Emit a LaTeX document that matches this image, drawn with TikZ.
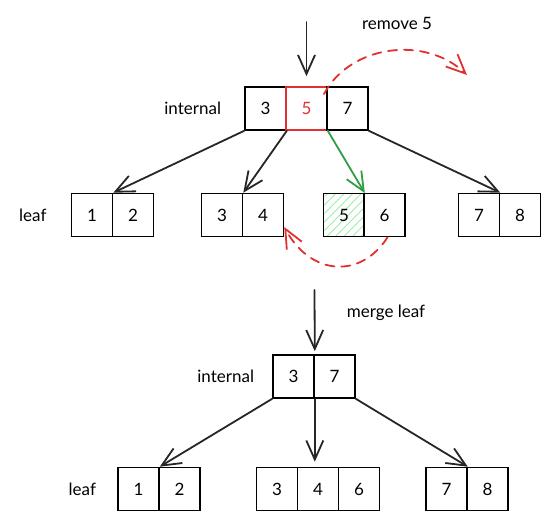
\documentclass[tikz,border=0pt]{standalone}
\usepackage{fontspec}
\setmainfont{Lato}
\usetikzlibrary{positioning,arrows.meta,patterns.meta}
\definecolor{rmred}{HTML}{E03131}
\definecolor{hitgreen}{HTML}{2F9E44}
\definecolor{hatchgreen}{HTML}{8CE99A}

\begin{document}
\begin{tikzpicture}[
    x=1pt, y=-1pt,
    cell/.style={draw, line width=1.6pt, minimum width=41pt, minimum height=43pt,
                 inner sep=0pt, font=\fontsize{17}{20}\selectfont},
    tag/.style={font=\fontsize{17}{20}\selectfont, inner sep=0pt},
    link/.style={-{Straight Barb[length=19pt,width=17pt,line width=1.8pt]},
                 line width=1.8pt, line cap=round, draw=black!85},
    moved/.style={link, draw=rmred, dash pattern=on 9pt off 7pt},
]
\useasboundingbox (0,0) rectangle (550,521);

% before: internal node and leaves
\node[cell] (i3) at (265.5,108.5) {3};
\node[cell, draw=rmred, text=rmred, right=-\pgflinewidth of i3] (i5) {5};
\node[cell, right=-\pgflinewidth of i5] (i7) {7};

\node[cell] (l1) at (92,215) {1};
\node[cell, right=-\pgflinewidth of l1] (l2) {2};
\node[cell] (l3) at (222,215) {3};
\node[cell, right=-\pgflinewidth of l3] (l4) {4};
\node[cell, pattern={Lines[angle=45,distance=6pt,line width=0.7pt]},
      pattern color=hatchgreen] (l5) at (344,215) {5};
\node[cell, right=-\pgflinewidth of l5] (l6) {6};
\node[cell] (l7) at (479,215) {7};
\node[cell, right=-\pgflinewidth of l7] (l8) {8};

\node[tag, left=23pt of i3] (tagint) {internal};
\node[tag, left=24pt of l1] (tagleaf) {leaf};
\node[tag] (tagrm) at (397,23) {remove 5};

\coordinate (rmin) at (306.5,22);
\draw[link] (rmin) -- ([yshift=10pt]i5.north);
\draw[link] (i3.south west) -- (l1.north east);
\draw[link] (i3.south east) -- (l3.north east);
\draw[link, draw=hitgreen] (i5.south east) -- (l5.north east);
\draw[link] (i7.south east) -- (l7.north east);

\coordinate (rmfrom) at (324,94);
\coordinate (rmto) at (467,75);
\draw[moved] (rmfrom) .. controls (350,45) and (425,35) .. (rmto);
\draw[moved] ([xshift=3pt]l6.south) .. controls (360,280) and (310,275)
    .. ([yshift=-12pt]l4.east);

% after: merged leaf
\node[cell] (m3) at (293.5,376.5) {3};
\node[cell, right=-\pgflinewidth of m3] (m7) {7};

\node[cell] (n1) at (138.5,489) {1};
\node[cell, right=-\pgflinewidth of n1] (n2) {2};
\node[cell] (n3) at (277,489) {3};
\node[cell, right=-\pgflinewidth of n3] (n4) {4};
\node[cell, right=-\pgflinewidth of n4] (n6) {6};
\node[cell] (n7) at (446.5,489) {7};
\node[cell, right=-\pgflinewidth of n7] (n8) {8};

\node[tag, left=18pt of m3] (tagmint) {internal};
\node[tag, left=21pt of n1] (tagmleaf) {leaf};
\node[tag] (tagmerge) at (386,313) {merge leaf};

\coordinate (mgin) at (314.5,290);
\draw[link] (mgin) -- ([yshift=3pt]m3.north east);
\draw[link] (m3.south west) -- (n1.north east);
\draw[link] (m3.south east) -- ([yshift=5pt]m3.south east |- n4.north);
\draw[link] (m7.south east) -- (n7.north east);
\end{tikzpicture}
\end{document}
